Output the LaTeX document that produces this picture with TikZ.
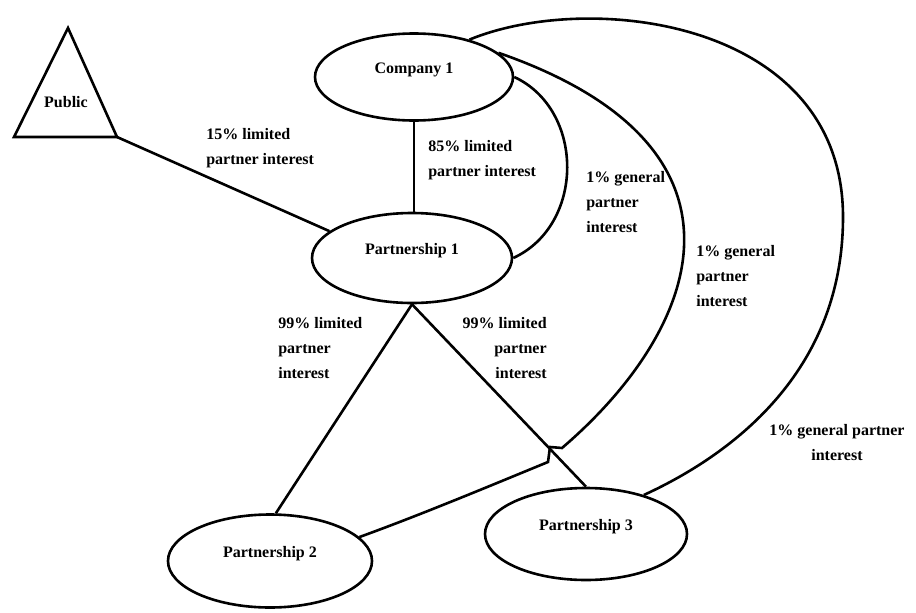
\documentclass[tikz,border=0pt]{standalone}
\usepackage{fontspec}
\setmainfont{Liberation Serif}
\usepackage{tikz}
\usetikzlibrary{shapes.geometric}

\begin{document}
\begin{tikzpicture}[
  x=1pt, y=-1pt,
  line width=2.6pt,
  every node/.style={font=\bfseries\fontsize{16}{25}\selectfont, inner sep=0pt},
  firm/.style={draw, ellipse, text depth=18pt},
  share/.style={anchor=west, align=left}
]
\useasboundingbox (0,0) rectangle (916,613);

% owners and partnerships
\node[firm, minimum width=198pt, minimum height=87pt] (co) at (414,77) {Company 1};
\node[firm, minimum width=200pt, minimum height=90pt] (p1) at (412,258) {Partnership 1};
\node[firm, minimum width=204pt, minimum height=93pt] (p2) at (270,561) {Partnership 2};
\node[firm, minimum width=202pt, minimum height=92pt] (p3) at (586,534) {Partnership 3};

% public triangle
\coordinate (pubtop) at (68,28);
\coordinate (pubL) at (14,137);
\coordinate (pubR) at (117,137);
\draw (pubtop) -- (pubL) -- (pubR) -- cycle;
\node (pub) at (66,102) {Public};

% limited partner interests
\draw (pubR) -- (p1.162);
\draw (co.south) -- (co.south |- p1.north);
\draw (p1.south) -- (p2.83);
\draw (p1.south) -- (p3.north);

% general partner interests
\draw (co.east) .. controls (585,110) and (585,225) .. (p1.east);
\draw (co.16) .. controls (770,147) and (701,329) .. (562,448)
  -- (550,447) -- (548,462) .. controls (480,490) and (420,515) .. (p2.15);
\draw (co.34) .. controls (590,-10) and (843,20) .. (843,217)
  .. controls (843,380) and (720,460) .. (p3.34);

% labels
\node[share] (l15) at (205,148) {15\% limited\\partner interest};
\node[share] (l85) at (427,160) {85\% limited\\partner interest};
\node[share] (g1) at (585,202) {1\% general\\partner\\interest};
\node[share] (g2) at (695,276) {1\% general\\partner\\interest};
\node[align=center] (g3) at (837,443) {1\% general partner\\interest};
\node[share] (l99a) at (277,348) {99\% limited\\partner\\interest};
\node[anchor=east, align=right] (l99b) at (548,348) {99\% limited\\partner\\interest};
\end{tikzpicture}
\end{document}
